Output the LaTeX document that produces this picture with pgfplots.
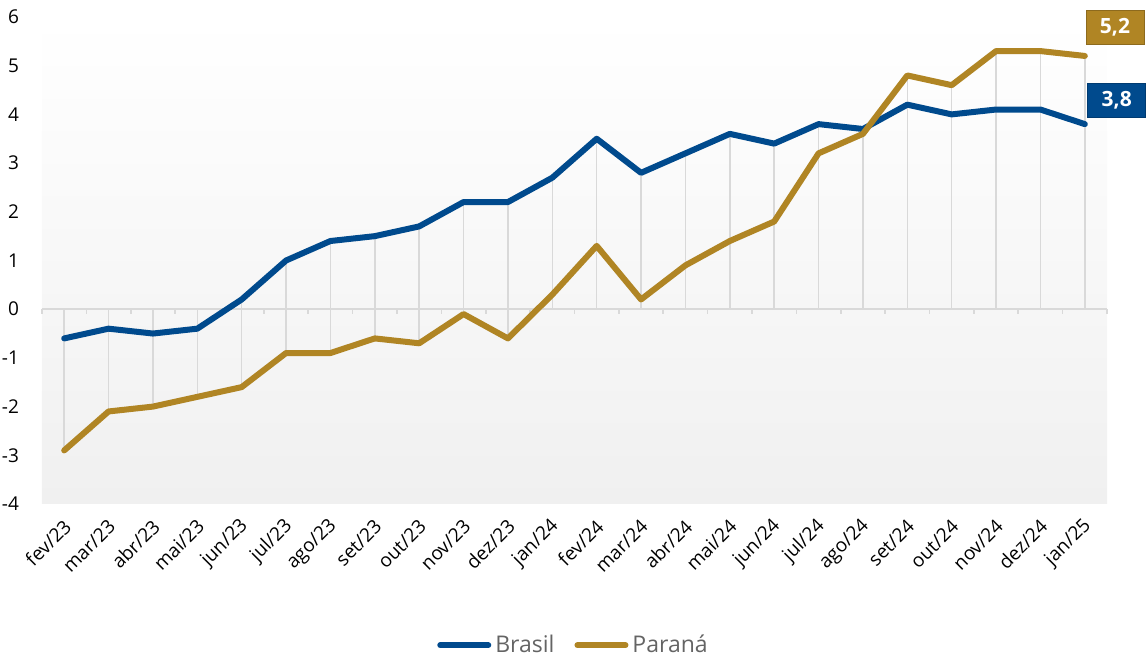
\documentclass[border=0pt]{standalone}
\usepackage{pgfplots}
\pgfplotsset{compat=1.18}
\usepackage{fontspec}
\setmainfont{Open Sans}
\definecolor{brblue}{RGB}{0,74,141}
\definecolor{prgold}{RGB}{176,133,36}
\definecolor{gridgray}{RGB}{217,217,217}
\definecolor{txtgray}{RGB}{100,100,100}

\pgfplotstableread{
x  br   pr
0  -0.6 -2.9
1  -0.4 -2.1
2  -0.5 -2.0
3  -0.4 -1.8
4   0.2 -1.6
5   1.0 -0.9
6   1.4 -0.9
7   1.5 -0.6
8   1.7 -0.7
9   2.2 -0.1
10  2.2 -0.6
11  2.7  0.3
12  3.5  1.3
13  2.8  0.2
14  3.2  0.9
15  3.6  1.4
16  3.4  1.8
17  3.8  3.2
18  3.7  3.6
19  4.2  4.8
20  4.0  4.6
21  4.1  5.3
22  4.1  5.3
23  3.8  5.2
}\datatable

\begin{document}
\begin{tikzpicture}
\begin{axis}[
  at={(21pt,77pt)}, anchor=south west,
  scale only axis, width=532.5pt, height=243.5pt,
  xmin=-0.5, xmax=23.5, ymin=-4, ymax=6,
  ytick={-4,-3,...,6},
  xtick={0,...,23},
  xticklabels={fev/23,mar/23,abr/23,mai/23,jun/23,jul/23,ago/23,set/23,out/23,nov/23,dez/23,jan/24,fev/24,mar/24,abr/24,mai/24,jun/24,jul/24,ago/24,set/24,out/24,nov/24,dez/24,jan/25},
  xticklabel style={xshift=1.8pt, yshift=-9.5pt, rotate=45, anchor=east, font=\fontsize{9.5}{11}\selectfont, inner sep=0pt},
  yticklabel style={font=\fontsize{9.5}{11}\selectfont, xshift=-8pt},
  /pgf/number format/assume math mode=true,
  major tick length=0pt,
  axis line style={draw=none},
  axis background/.style={shade, top color=white, bottom color={rgb,255:red,240;green,240;blue,240}},
  clip=false,
  legend style={at={(0.5,-0.29)}, anchor=center, draw=none, fill=none, legend columns=2,
    font=\fontsize{11.5}{14}\selectfont\color{txtgray}, /tikz/every even column/.append style={column sep=8pt}},
  legend cell align=left,
]
% zero line with boundary ticks
\draw[gridgray, line width=0.8pt] (axis cs:-0.5,0) -- (axis cs:23.5,0);
\pgfplotsinvokeforeach{-0.5,0.5,1.5,2.5,3.5,4.5,5.5,6.5,7.5,8.5,9.5,10.5,11.5,12.5,13.5,14.5,15.5,16.5,17.5,18.5,19.5,20.5,21.5,22.5,23.5}{
  \draw[gridgray, line width=0.8pt] (axis cs:#1,0) -- ([yshift=-2.5pt]axis cs:#1,0);
}
% drop lines
\addplot[ycomb, gridgray, line width=0.8pt, forget plot] table[x=x,y=br] {\datatable};
\addplot[ycomb, gridgray, line width=0.8pt, forget plot] table[x=x,y=pr] {\datatable};
% series
\addplot[brblue, line width=3pt, line join=round, line cap=round,
  legend image code/.code={\draw[brblue, line width=3pt, line cap=round] (0pt,0pt) -- (24pt,0pt);}]
  table[x=x,y=br] {\datatable};
\addlegendentry{Brasil}
\addplot[prgold, line width=3pt, line join=round, line cap=round,
  legend image code/.code={\draw[prgold, line width=3pt, line cap=round] (0pt,0pt) -- (24pt,0pt);}]
  table[x=x,y=pr] {\datatable};
\addlegendentry{Paraná}
% end labels
\node[fill=prgold, draw=prgold!80!black, line width=0.4pt, text=white, font=\bfseries\fontsize{10.5}{12}\selectfont,
  minimum width=29pt, minimum height=17pt, inner sep=0pt] at (axis cs:23.68,5.79) {5,2};
\node[fill=brblue, draw=brblue!80!black, line width=0.4pt, text=white, font=\bfseries\fontsize{10.5}{12}\selectfont,
  minimum width=29pt, minimum height=17pt, inner sep=0pt] at (axis cs:23.72,4.29) {3,8};
\end{axis}
\pgfresetboundingbox
\path (0,0) rectangle (573.5pt,329pt);
\end{tikzpicture}
\end{document}
